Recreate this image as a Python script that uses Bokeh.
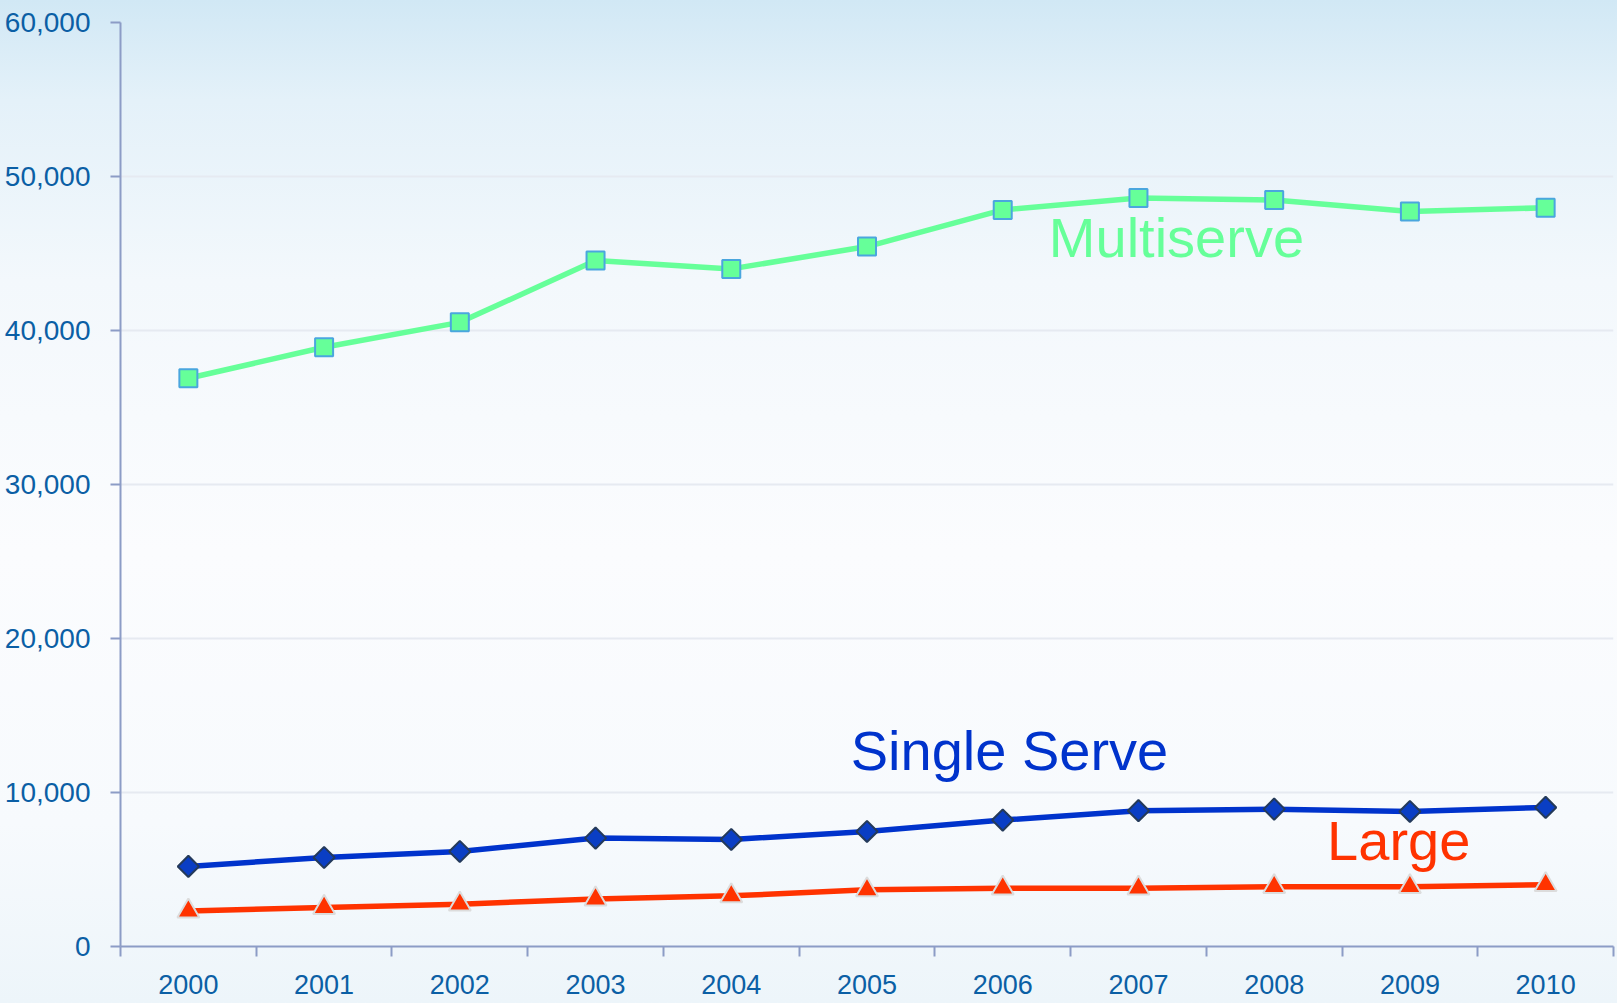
import math
from bokeh.plotting import figure
from bokeh.models import FixedTicker, NumeralTickFormatter, Label, ColumnDataSource
from bokeh.embed import file_html
from bokeh.resources import INLINE

years = [2000, 2001, 2002, 2003, 2004, 2005, 2006, 2007, 2008, 2009, 2010]
multiserve = [36900, 38910, 40530, 44540, 44000, 45450, 47830, 48600, 48470, 47720, 47970]
single_serve = [5200, 5780, 6170, 7040, 6950, 7470, 8210, 8820, 8920, 8770, 9030]
large = [2300, 2530, 2750, 3080, 3290, 3680, 3790, 3790, 3880, 3880, 4010]
y_ticks = [0, 10000, 20000, 30000, 40000, 50000, 60000]

FONT = "Liberation Sans Narrow, Arial Narrow, Liberation Sans"

p = figure(width=1617, height=1003, output_backend="svg", toolbar_location=None,
           x_range=(years[0] - 0.5, years[-1] + 0.5), y_range=(0, 60000),
           min_border_left=120, min_border_right=4, min_border_top=22, min_border_bottom=57)
p.styles = {"background": "linear-gradient(180deg, #d1e8f5 0%, #e4f1f9 10%, #f3f8fc 28%, #fbfcfe 55%, #f7fafd 82%, #edf5fa 100%)"}
p.border_fill_color = None
p.background_fill_color = None
p.outline_line_color = None

# axes
p.xaxis.ticker = FixedTicker(ticks=years, minor_ticks=[y - 0.5 for y in years] + [years[-1] + 0.5])
p.xaxis.major_tick_line_color = None
p.xaxis.major_tick_out = 0
p.xaxis.major_tick_in = 0
p.xaxis.minor_tick_out = 10
p.xaxis.minor_tick_in = 0
p.xaxis.minor_tick_line_color = "#8c9cc6"
p.xaxis.minor_tick_line_width = 2
p.xaxis.major_label_standoff = 18
p.xaxis.major_label_text_font_size = "27px"
p.yaxis.ticker = FixedTicker(ticks=y_ticks)
p.yaxis.formatter = NumeralTickFormatter(format="0,0")
p.yaxis.minor_tick_line_color = None
p.yaxis.major_tick_out = 10
p.yaxis.major_tick_in = 0
p.yaxis.major_tick_line_color = "#8c9cc6"
p.yaxis.major_tick_line_width = 2
p.yaxis.major_label_standoff = 20
p.yaxis.major_label_text_font_size = "28px"
for ax in (p.xaxis, p.yaxis):
    ax.axis_line_color = "#8c9cc6"
    ax.axis_line_width = 2
    ax.major_label_text_font = FONT
    ax.major_label_text_color = "#0b5fa5"

p.xgrid.grid_line_color = None
p.ygrid.ticker = FixedTicker(ticks=y_ticks)
p.ygrid.grid_line_color = "#e6eaf1"
p.ygrid.grid_line_width = 2

src = ColumnDataSource(dict(x=years, m=multiserve, s=single_serve, l=large))

p.line("x", "m", source=src, line_color="#66ff99", line_width=5.5)
p.scatter("x", "m", source=src, marker="square", size=18, fill_color="#66ff99",
          line_color="#4aa6de", line_width=2)

p.line("x", "s", source=src, line_color="#0033cc", line_width=5.5)
p.scatter("x", "s", source=src, marker="square", angle=math.pi / 4, size=15,
          fill_color="#0a3ec4", line_color="#243a5a", line_width=2)

p.line("x", "l", source=src, line_color="#ff3300", line_width=5.5)
p.scatter("x", "l", source=src, marker="triangle", size=22, fill_color="#ff3300",
          line_color="#dcdcdc", line_width=2)

for txt, x, y, col in [("Multiserve", 2006.34, 46020, "#66ff99"),
                        ("Single Serve", 2004.88, 12740, "#0033cc"),
                        ("Large", 2008.39, 6865, "#ff3300")]:
    p.add_layout(Label(x=x, y=y, text=txt, text_color=col, text_font=FONT,
                       text_font_size="56px", text_baseline="alphabetic", text_align="left"))

open("out.html", "w").write(file_html(p, INLINE))
